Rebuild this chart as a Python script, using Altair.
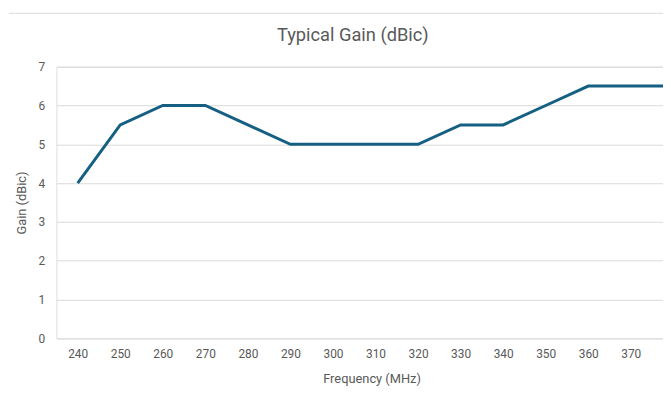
import altair as alt
import pandas as pd

freq = ["240", "250", "260", "270", "280", "290", "300", "310", "320",
        "330", "340", "350", "360", "370", "380"]
gain = [4, 5.5, 6, 6, 5.5, 5, 5, 5, 5, 5.5, 5.5, 6, 6.5, 6.5, 6.5]

df = pd.DataFrame({"freq": freq, "gain": gain})

TEXT = "#595959"
GRID = "#D9D9D9"
FONT = "Roboto"

line = alt.Chart(df).mark_line(color="#156082", strokeWidth=3).encode(
    x=alt.X(
        "freq:O",
        sort=freq,
        scale=alt.Scale(range=[0, 646]),
        axis=alt.Axis(
            title="Frequency (MHz)",
            labelAngle=0,
            ticks=False,
            domain=False,
            grid=False,
            labelPadding=10,
            labelFontSize=12,
            labelColor=TEXT,
            labelFont=FONT,
            titleFont=FONT,
            titleFontSize=13,
            titleFontWeight="normal",
            titleColor=TEXT,
            titleX=319,
            titleY=41,
            titleBaseline="middle",
            titleAlign="center",
        ),
    ),
    y=alt.Y(
        "gain:Q",
        scale=alt.Scale(domain=[0, 7], nice=False),
        axis=alt.Axis(
            title="Gain (dBic)",
            values=[0, 1, 2, 3, 4, 5, 6, 7],
            ticks=False,
            domain=False,
            grid=True,
            gridColor=GRID,
            gridWidth=1,
            labelPadding=12,
            labelFontSize=12,
            labelColor=TEXT,
            labelFont=FONT,
            titleFont=FONT,
            titleFontSize=13,
            titleFontWeight="normal",
            titleColor=TEXT,
            titleAngle=-90,
            titleX=-35,
            titleY=137.5,
            titleBaseline="middle",
            titleAlign="center",
        ),
    ),
)

border = alt.Chart(pd.DataFrame({"a": [0]})).mark_rule(color=GRID, strokeWidth=1).encode(
    x=alt.value(-48), x2=alt.value(614), y=alt.value(-54)
)

chart = alt.layer(border, line).properties(
    width=614,
    height=275,
    autosize=alt.AutoSizeParams(type="none"),
    padding={"left": 49, "top": 57, "right": 0, "bottom": 62},
    title=alt.TitleParams(
        "Typical Gain (dBic)",
        anchor="middle",
        font=FONT,
        fontSize=18.5,
        fontWeight="normal",
        color=TEXT,
        baseline="middle",
        offset=-41,
        dx=-7,
    ),
).configure_view(stroke=None).configure(background="white")

chart.save("out.html", embed_options={"renderer": "svg", "actions": False})
